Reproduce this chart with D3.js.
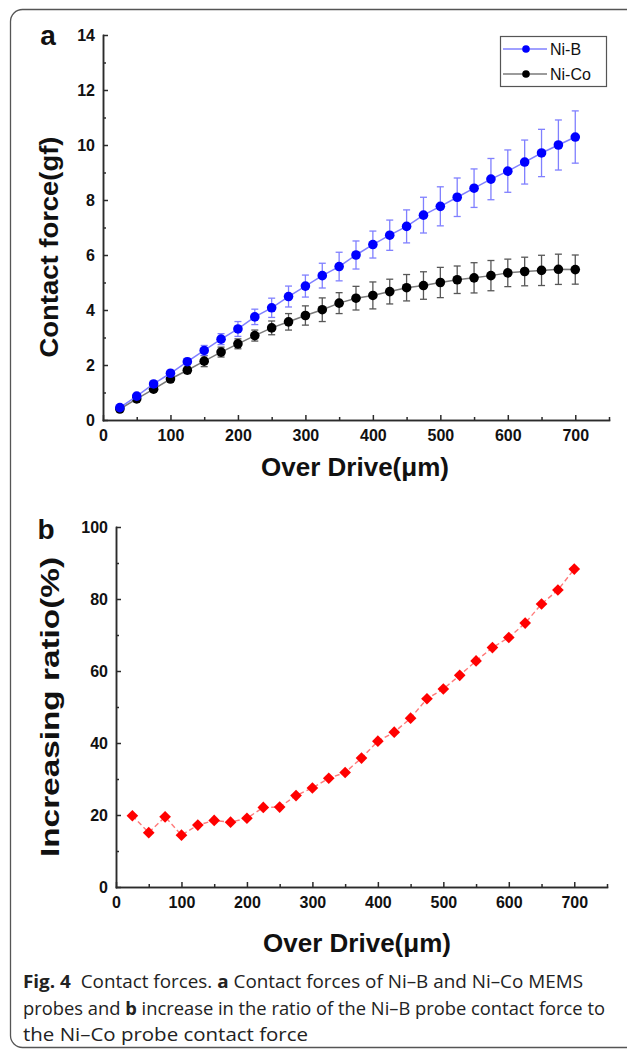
<!DOCTYPE html>
<html>
<head>
<meta charset="utf-8">
<script src="https://cdn.jsdelivr.net/npm/d3@7"></script>
<style>
  html, body { margin: 0; padding: 0; background: #fff; }
  svg { display: block; }
  .axis path, .axis line { stroke: #2b2b2b; stroke-width: 1.5; }
  .axis text { font-family: "Liberation Sans", Arial, sans-serif; font-weight: bold; font-size: 16px; fill: #111; }
  .title { font-family: "Liberation Sans", Arial, sans-serif; font-weight: bold; fill: #111; }
  .caption { font-family: "Liberation Sans Narrow", "Open Sans", sans-serif; font-size: 18px; fill: #222; }
</style>
</head>
<body>
<div id="chart"></div>
<script>
;(function() {
  'use strict';

  // Over drive positions (um), shared by both panels.
  var overDrive = [25, 50, 75, 100, 125, 150, 175, 200, 225, 250, 275, 300, 325, 350,
                   375, 400, 425, 450, 475, 500, 525, 550, 575, 600, 625, 650, 675, 700];

  // Panel a: contact force (gf) with error bars.
  var niB    = [0.45, 0.87, 1.31, 1.70, 2.12, 2.53, 2.94, 3.31, 3.75, 4.08, 4.49, 4.87, 5.25, 5.58,
                6.00, 6.38, 6.72, 7.04, 7.45, 7.77, 8.10, 8.43, 8.76, 9.05, 9.38, 9.71, 10.00, 10.29];
  var niBErr = [0.06, 0.08, 0.10, 0.10, 0.12, 0.18, 0.20, 0.27, 0.28, 0.35, 0.38, 0.40, 0.45, 0.52,
                0.51, 0.49, 0.55, 0.60, 0.65, 0.71, 0.70, 0.70, 0.75, 0.77, 0.80, 0.86, 0.91, 0.95];
  var niCo    = [0.40, 0.77, 1.12, 1.49, 1.81, 2.14, 2.47, 2.77, 3.07, 3.35, 3.57, 3.80, 4.01, 4.25,
                 4.43, 4.53, 4.67, 4.81, 4.89, 5.00, 5.10, 5.17, 5.25, 5.35, 5.40, 5.44, 5.48, 5.47];
  var niCoErr = [0.05, 0.06, 0.08, 0.10, 0.12, 0.20, 0.18, 0.18, 0.20, 0.25, 0.30, 0.35, 0.43, 0.38,
                 0.43, 0.49, 0.45, 0.48, 0.50, 0.55, 0.50, 0.55, 0.55, 0.50, 0.52, 0.55, 0.55, 0.53];

  // Panel b: increasing ratio (%).
  var ratio = [19.8, 15.1, 19.5, 14.4, 17.2, 18.5, 18.0, 19.1, 22.1, 22.2, 25.4, 27.5, 30.2, 31.8,
               35.8, 40.5, 43.0, 46.9, 52.3, 55.0, 58.8, 62.8, 66.5, 69.3, 73.3, 78.6, 82.5, 88.3];

  // Tick values.
  var xMajor = [0, 100, 200, 300, 400, 500, 600, 700];
  var xMinor = [50, 150, 250, 350, 450, 550, 650, 750];
  var forceMajor = [0, 2, 4, 6, 8, 10, 12, 14];
  var forceMinor = [1, 3, 5, 7, 9, 11, 13];
  var ratioMajor = [0, 20, 40, 60, 80, 100];
  var ratioMinor = [10, 30, 50, 70, 90];

  var seriesNames = ['Ni-B', 'Ni-Co'];

  var width = 627, height = 1052;

  var svg = d3.select('#chart').append('svg')
      .attr('width', width)
      .attr('height', height);

  // Rounded frame round figure and caption (right and bottom run off the page).
  svg.append('rect')
      .attr('x', 10.5).attr('y', 9.5)
      .attr('width', 640).attr('height', 1038)
      .attr('rx', 12).attr('ry', 12)
      .attr('fill', 'none')
      .attr('stroke', '#555')
      .attr('stroke-width', 1.3);

  function translation(x, y) {
    return 'translate(' + x + ',' + y + ')';
  }

  /**
   * Draws an L shaped pair of axes with inward ticks, major and minor.
   */
  function drawAxes(g, x, y, yMajor, yMinor, labelGap) {
    var y0 = y.range()[0], x0 = x.range()[0];

    g.append('g').attr('class', 'axis')
        .attr('transform', translation(0, y0))
        .call(d3.axisBottom(x).tickValues(xMinor).tickSizeInner(-3).tickSizeOuter(0).tickFormat(''));
    g.append('g').attr('class', 'axis')
        .attr('transform', translation(0, y0))
        .call(d3.axisBottom(x).tickValues(xMajor).tickSizeInner(-5).tickSizeOuter(0).tickPadding(10))
        .selectAll('text').attr('dy', '0.71em');

    g.append('g').attr('class', 'axis')
        .attr('transform', translation(x0, 0))
        .call(d3.axisLeft(y).tickValues(yMinor).tickSizeInner(-3).tickSizeOuter(0).tickFormat(''));
    g.append('g').attr('class', 'axis')
        .attr('transform', translation(x0, 0))
        .call(d3.axisLeft(y).tickValues(yMajor).tickSizeInner(-5).tickSizeOuter(0).tickPadding(labelGap));

    g.selectAll('.axis .domain').attr('stroke-linecap', 'square');
  }

  // ---------- Panel a ----------
  var xA = d3.scaleLinear().domain([0, 750]).range([103, 609]);
  var yA = d3.scaleLinear().domain([0, 14]).range([420, 35]);
  var gA = svg.append('g');

  var series = [
    {name: seriesNames[0], values: niB, err: niBErr, line: '#8080ff', bar: '#6a6aff', dot: '#0000ff'},
    {name: seriesNames[1], values: niCo, err: niCoErr, line: '#7a7a7a', bar: '#3a3a3a', dot: '#000000'}
  ];

  var lineA = d3.line()
      .x(function(d) { return xA(d.x); })
      .y(function(d) { return yA(d.y); });

  // Draw Ni-Co first so Ni-B sits on top where they overlap.
  series.slice().reverse().forEach(function(s) {
    var pts = overDrive.map(function(x, i) { return {x: x, y: s.values[i], e: s.err[i]}; });
    var grp = gA.append('g');

    var bars = grp.selectAll('.err').data(pts).enter().append('g')
        .attr('stroke', s.bar).attr('stroke-width', 1.3).attr('opacity', 0.85);
    bars.append('line')
        .attr('x1', function(d) { return xA(d.x); }).attr('x2', function(d) { return xA(d.x); })
        .attr('y1', function(d) { return yA(d.y - d.e); }).attr('y2', function(d) { return yA(d.y + d.e); });
    bars.append('line')
        .attr('x1', function(d) { return xA(d.x) - 3.5; }).attr('x2', function(d) { return xA(d.x) + 3.5; })
        .attr('y1', function(d) { return yA(d.y + d.e); }).attr('y2', function(d) { return yA(d.y + d.e); });
    bars.append('line')
        .attr('x1', function(d) { return xA(d.x) - 3.5; }).attr('x2', function(d) { return xA(d.x) + 3.5; })
        .attr('y1', function(d) { return yA(d.y - d.e); }).attr('y2', function(d) { return yA(d.y - d.e); });

    grp.append('path').datum(pts)
        .attr('d', lineA)
        .attr('fill', 'none')
        .attr('stroke', s.line)
        .attr('stroke-width', 1.5);

    grp.selectAll('circle').data(pts).enter().append('circle')
        .attr('cx', function(d) { return xA(d.x); })
        .attr('cy', function(d) { return yA(d.y); })
        .attr('r', 4.8)
        .attr('fill', s.dot);
  });

  drawAxes(gA, xA, yA, forceMajor, forceMinor, 8);

  // Legend.
  var legend = gA.append('g').attr('transform', translation(500, 36));
  legend.append('rect')
      .attr('x', 0.5).attr('y', 0.5).attr('width', 106).attr('height', 50)
      .attr('fill', '#fff').attr('stroke', '#555').attr('stroke-width', 1.2);
  series.forEach(function(s, i) {
    var row = legend.append('g').attr('transform', translation(0, 13 + i * 25));
    row.append('line').attr('x1', 3).attr('x2', 47).attr('y1', 0).attr('y2', 0)
        .attr('stroke', s.line).attr('stroke-width', 1.5);
    row.append('circle').attr('cx', 26).attr('cy', 0).attr('r', 3.8).attr('fill', s.dot);
    row.append('text').attr('x', 50).attr('y', 0).attr('dy', '0.36em')
        .attr('font-family', '"Liberation Sans", Arial, sans-serif')
        .attr('font-size', 16).attr('fill', '#111')
        .text(s.name);
  });

  gA.append('text').attr('class', 'title')
      .attr('x', 48).attr('y', 45).attr('font-size', 28).attr('text-anchor', 'middle')
      .text('a');
  gA.append('text').attr('class', 'title')
      .attr('x', 355).attr('y', 476).attr('font-size', 26).attr('text-anchor', 'middle')
      .text('Over Drive(\u03bcm)');
  gA.append('text').attr('class', 'title')
      .attr('transform', translation(58, 247) + ' rotate(-90)')
      .attr('font-size', 26).attr('text-anchor', 'middle')
      .attr('textLength', 221).attr('lengthAdjust', 'spacingAndGlyphs')
      .text('Contact force(gf)');

  // ---------- Panel b ----------
  var xB = d3.scaleLinear().domain([0, 750]).range([116, 607]);
  var yB = d3.scaleLinear().domain([0, 100]).range([887, 527]);
  var gB = svg.append('g');

  var ratioPts = overDrive.map(function(x, i) { return {x: x, y: ratio[i]}; });

  gB.append('path').datum(ratioPts)
      .attr('d', d3.line().x(function(d) { return xB(d.x); }).y(function(d) { return yB(d.y); }))
      .attr('fill', 'none')
      .attr('stroke', '#ff7a7a')
      .attr('stroke-width', 1.4)
      .attr('stroke-dasharray', '5,3');

  var diamond = d3.symbol().type(d3.symbolSquare).size(68);
  gB.selectAll('.dia').data(ratioPts).enter().append('path')
      .attr('d', diamond)
      .attr('transform', function(d) { return translation(xB(d.x), yB(d.y)) + ' rotate(45)'; })
      .attr('fill', '#ff0000');

  drawAxes(gB, xB, yB, ratioMajor, ratioMinor, 8);

  gB.append('text').attr('class', 'title')
      .attr('x', 46).attr('y', 539).attr('font-size', 28).attr('text-anchor', 'middle')
      .text('b');
  gB.append('text').attr('class', 'title')
      .attr('x', 357).attr('y', 952).attr('font-size', 26).attr('text-anchor', 'middle')
      .text('Over Drive(\u03bcm)');
  gB.append('text').attr('class', 'title')
      .attr('transform', translation(59, 707) + ' rotate(-90)')
      .attr('font-size', 26).attr('text-anchor', 'middle')
      .attr('textLength', 300).attr('lengthAdjust', 'spacingAndGlyphs')
      .text('Increasing ratio(%)');

  // ---------- Caption ----------
  var caption = [
    [['Fig. 4', true], ['  Contact forces. ', false], ['a', true],
     [' Contact forces of Ni\u2013B and Ni\u2013Co MEMS', false]],
    [['probes and ', false], ['b', true],
     [' increase in the ratio of the Ni\u2013B probe contact force to', false]],
    [['the Ni\u2013Co probe contact force', false]]
  ];
  var captionWidths = [560, 582, 285];

  caption.forEach(function(parts, i) {
    var t = svg.append('text').attr('class', 'caption')
        .attr('x', 23).attr('y', 988 + i * 26.5)
        .attr('xml:space', 'preserve')
        .attr('textLength', captionWidths[i])
        .attr('lengthAdjust', 'spacingAndGlyphs');
    parts.forEach(function(p) {
      t.append('tspan')
          .attr('font-weight', p[1] ? 'bold' : 'normal')
          .text(p[0]);
    });
  });

}());
</script>
</body>
</html>
